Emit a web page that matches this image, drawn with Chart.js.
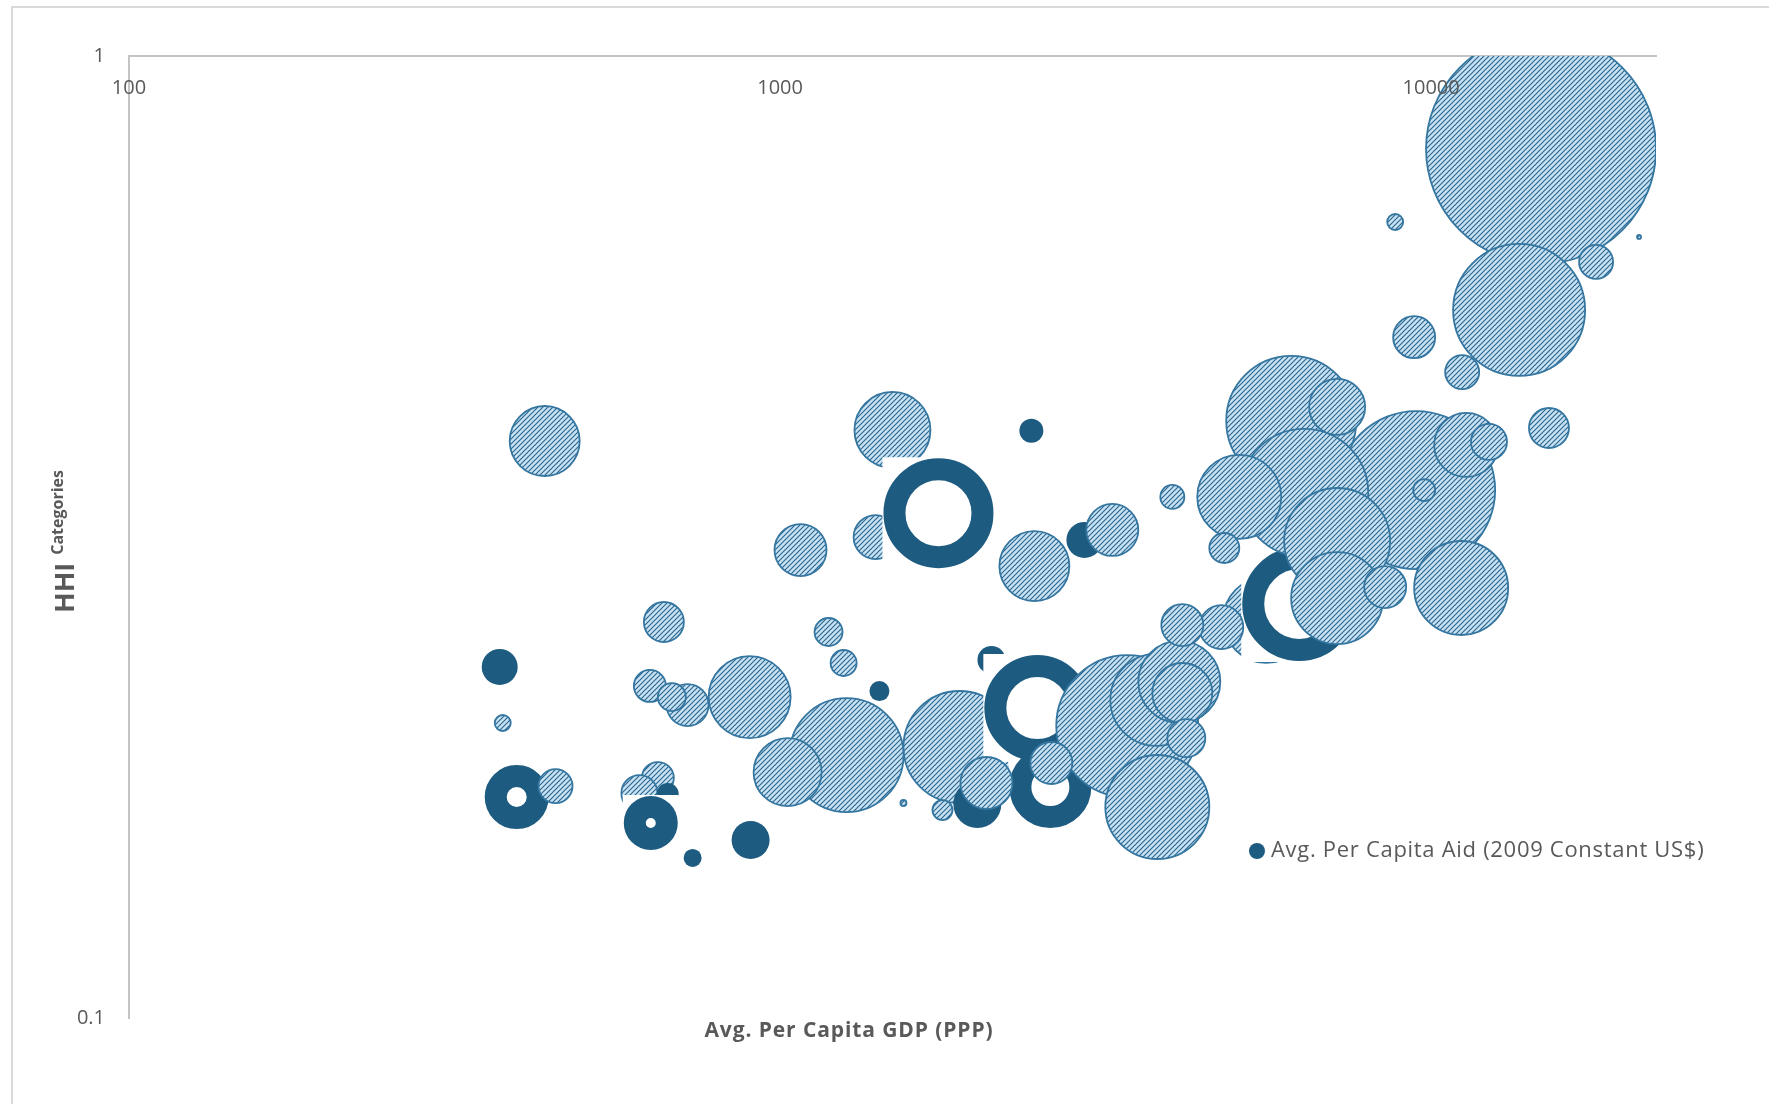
<!DOCTYPE html>
<html>
<head>
<meta charset="utf-8">
<script src="https://cdn.jsdelivr.net/npm/chart.js@4.4.1/dist/chart.umd.min.js"></script>
<style>
  html, body { margin: 0; padding: 0; background: #fff; overflow: hidden; }
  #frame { position: absolute; left: 11px; top: 6px; width: 1900px; height: 1200px; border: 2px solid #d9d9d9; }
  #wrap { position: absolute; left: 0; top: 0; width: 1769px; height: 1104px; }
</style>
</head>
<body>
<div id="frame"></div>
<div id="wrap"><canvas id="myChart"></canvas></div>
<script>
const xTitle = 'Avg. Per Capita GDP (PPP)';
const yTitleMain = 'HHI';
const yTitleSub = 'Categories';
const serieName = 'Avg. Per Capita Aid (2009 Constant US$)';

const xTicks = [100, 1000, 10000];
const yTicks = [0.1, 1];

// bolhas hachuradas que ficam atrás dos anéis
const backGdp = [1488, 1402, 1886, 649, 608, 5580];
const backHhi = [0.4086, 0.3162, 0.1913, 0.1776, 0.1713, 0.2593];
const backAid = [38, 22, 56, 16, 18, 43];

// bolhas cheias escuras
const solidGdp = [371, 672, 734, 901, 1421, 2432, 2112, 2009, 2934];
const solidHhi = [0.2317, 0.1709, 0.1467, 0.1531, 0.2187, 0.4077, 0.2356, 0.1669, 0.3140];
const solidAid = [18, 11, 9, 19, 10, 12, 14, 24, 18];

// anéis (bolha escura com centro branco)
const ringGdp = [1751, 2484, 2601, 394, 633, 6272];
const ringHhi = [0.3348, 0.2100, 0.1738, 0.1697, 0.1595, 0.2694];
const ringAid = [55, 53, 41, 32, 27, 57];

// bolhas hachuradas da frente
const frontGdp = [14750, 9484, 3414, 13650, 6097, 6384, 1265, 7172, 3797, 11120, 3784, 7172, 5073, 898, 4104,
  2458, 435, 1027, 11320, 4148, 7172, 1075, 3238, 2075, 4761, 721, 2610, 4148, 8500, 9417, 663, 15170, 4207,
  12270, 452, 11160, 17920, 631, 4812, 1187, 682, 1252, 4004, 9757, 1776, 375, 8806, 1547, 20860];
const frontHhi = [0.8007, 0.3538, 0.2011, 0.5445, 0.4175, 0.3514, 0.1876, 0.3132, 0.1657, 0.2799, 0.2141, 0.2732, 0.3481, 0.2156, 0.2236,
  0.2950, 0.3979, 0.1801, 0.3942, 0.2177, 0.4318, 0.3065, 0.3216, 0.1755, 0.2549, 0.2115, 0.1841, 0.2561, 0.2805, 0.5102, 0.2580, 0.4105, 0.1954,
  0.3970, 0.1742, 0.4693, 0.6108, 0.2214, 0.3080, 0.2519, 0.2156, 0.2339, 0.3481, 0.3538, 0.1645, 0.2026, 0.6721, 0.1673, 0.6485];
const frontAid = [115, 79, 71, 66, 65, 64, 57, 53, 52, 47, 46, 46, 42, 41, 41,
  35, 35, 34, 32, 30, 28, 26, 26, 26, 22, 21, 21, 21, 21, 21, 20, 20, 19,
  18, 17, 17, 17, 16, 15, 14, 14, 13, 12, 11, 10, 8, 8, 3, 2];

const azulEscuro = '#1d5b80';
const contorno = '#3576a0';
const cinzaTexto = '#595959';
const espessuraAnel = 22;

function hachura() {
  const c = document.createElement('canvas');
  c.width = 5; c.height = 5;
  const g = c.getContext('2d');
  g.fillStyle = '#c8e2f3';
  g.fillRect(0, 0, 5, 5);
  g.strokeStyle = '#2a6690';
  g.lineWidth = 1.15;
  g.beginPath();
  g.moveTo(0, 5); g.lineTo(5, 0);
  g.moveTo(-1, 1); g.lineTo(1, -1);
  g.moveTo(4, 6); g.lineTo(6, 4);
  g.stroke();
  return g.createPattern(c, 'repeat');
}
const padrao = hachura();

function pontos(gdp, hhi, aid, ajuste) {
  return gdp.map((v, i) => ({ x: v, y: hhi[i], r: aid[i] - (ajuste || 0) }));
}

// fundo branco quadrado atrás de cada anel (como na imagem original)
function quadrados(gdp, hhi, aid) {
  return gdp.map((v, i) => ({ x: v, y: hhi[i], r: (aid[i] * 2 + 2) / Math.SQRT2 }));
}

// rótulos dos eixos, títulos e legenda
const textos = {
  id: 'textos',
  afterDraw(chart) {
    const ctx = chart.ctx;
    const area = chart.chartArea;
    const sx = chart.scales.x;
    const sy = chart.scales.y;
    ctx.save();
    ctx.fillStyle = cinzaTexto;
    ctx.font = '20px "Open Sans"';
    ctx.textBaseline = 'middle';
    ctx.textAlign = 'center';
    xTicks.forEach(v => ctx.fillText(String(v), sx.getPixelForValue(v), area.top + 32));
    ctx.textAlign = 'right';
    yTicks.forEach(v => ctx.fillText(String(v), area.left - 24, sy.getPixelForValue(v)));

    ctx.textAlign = 'center';
    ctx.font = 'bold 21px "Open Sans"';
    ctx.letterSpacing = '0.9px';
    ctx.fillText(xTitle, 849, 1031);
    ctx.letterSpacing = '0px';

    // título do eixo y: "HHI" grande e "Categories" menor
    ctx.rotate(-Math.PI / 2);
    ctx.textAlign = 'left';
    ctx.textBaseline = 'alphabetic';
    ctx.font = 'bold 27px "Open Sans"';
    ctx.fillText(yTitleMain, -613, 74);
    const w = ctx.measureText(yTitleMain).width;
    ctx.font = 'bold 16px "Open Sans"';
    ctx.fillText(yTitleSub, -613 + w + 8, 63);
    ctx.restore();

    // legenda
    ctx.save();
    ctx.fillStyle = azulEscuro;
    ctx.beginPath();
    ctx.arc(1257, 851, 8, 0, Math.PI * 2);
    ctx.fill();
    ctx.fillStyle = cinzaTexto;
    ctx.font = '22px "Open Sans"';
    ctx.letterSpacing = '0.7px';
    ctx.textBaseline = 'middle';
    ctx.textAlign = 'left';
    ctx.fillText(serieName, 1271, 851);
    ctx.restore();
  }
};

const ctx = document.getElementById('myChart').getContext('2d');
const grafico = new Chart(ctx, {
  type: 'bubble',
  data: {
    datasets: [
      {
        label: serieName,
        data: pontos(frontGdp, frontHhi, frontAid),
        backgroundColor: padrao,
        borderColor: contorno,
        borderWidth: 1.8,
        clip: 0,
        order: 1
      },
      {
        label: serieName,
        data: pontos(ringGdp, ringHhi, ringAid, espessuraAnel / 2),
        backgroundColor: '#ffffff',
        borderColor: azulEscuro,
        borderWidth: espessuraAnel,
        clip: 0,
        order: 2
      },
      {
        label: serieName,
        data: quadrados(ringGdp, ringHhi, ringAid),
        pointStyle: 'rect',
        backgroundColor: '#ffffff',
        borderWidth: 0,
        clip: 0,
        order: 2.5
      },
      {
        label: serieName,
        data: pontos(solidGdp, solidHhi, solidAid),
        backgroundColor: azulEscuro,
        borderWidth: 0,
        clip: 0,
        order: 3
      },
      {
        label: serieName,
        data: pontos(backGdp, backHhi, backAid),
        backgroundColor: padrao,
        borderColor: contorno,
        borderWidth: 1.8,
        clip: 0,
        order: 4
      }
    ]
  },
  options: {
    responsive: true,
    maintainAspectRatio: false,
    animation: false,
    events: [],
    layout: { autoPadding: false, padding: { left: 0, top: 56, right: 113, bottom: 86 } },
    scales: {
      x: {
        type: 'logarithmic',
        position: 'top',
        min: 100,
        max: 22150,
        grid: { display: false, drawTicks: false },
        border: { display: true, color: '#c4c4c4', width: 2 },
        afterFit: (s) => { s.height = 0; },
        ticks: { display: false }
      },
      y: {
        type: 'logarithmic',
        min: 0.1,
        max: 1,
        grid: { display: false, drawTicks: false },
        border: { display: true, color: '#c4c4c4', width: 2 },
        afterFit: (s) => { s.width = 129; },
        ticks: { display: false }
      }
    },
    plugins: {
      legend: { display: false },
      tooltip: { enabled: false }
    }
  },
  plugins: [textos]
});
</script>
</body>
</html>
